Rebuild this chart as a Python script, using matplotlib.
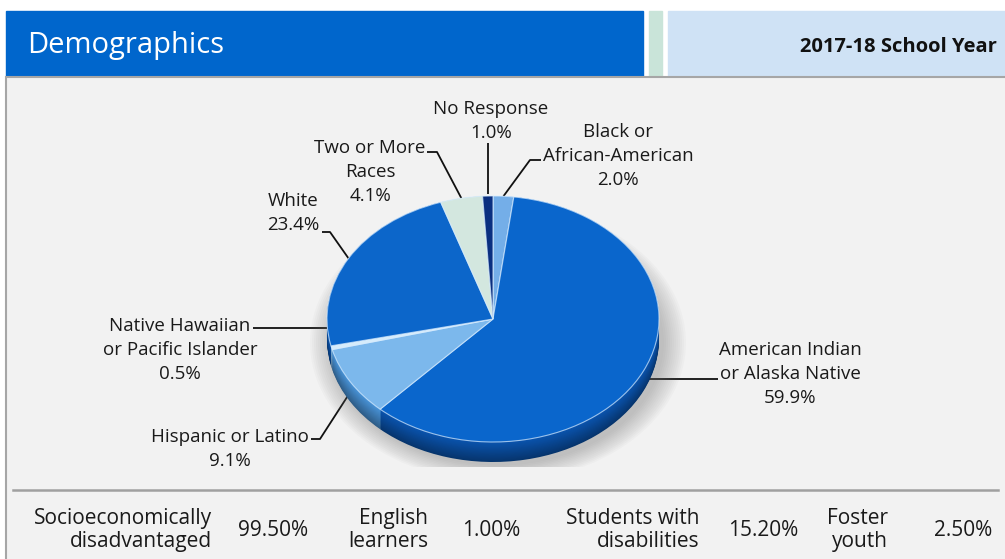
import matplotlib
matplotlib.use("Agg")
import matplotlib.pyplot as plt
import numpy as np
from matplotlib.patches import Rectangle, Ellipse
from matplotlib.colors import to_rgb

# ---------------- data ----------------
groups = ["Black or\nAfrican-American", "American Indian\nor Alaska Native", "Hispanic or Latino",
          "Native Hawaiian\nor Pacific Islander", "White", "Two or More\nRaces", "No Response"]
shares = [2.0, 59.9, 9.1, 0.5, 23.4, 4.1, 1.0]
top_colors = ["#74aee8", "#0a66cc", "#7cb8ec", "#d6ecfb", "#0c66ca", "#d3e7df", "#0a2f80"]

stat_names = ["Socioeconomically\ndisadvantaged", "English\nlearners", "Students with\ndisabilities", "Foster\nyouth"]
stat_values = ["99.50%", "1.00%", "15.20%", "2.50%"]

title = "Demographics"
year_label = "2017-18 School Year"

plt.rcParams['font.family'] = ['Open Sans', 'DejaVu Sans']

W, H = 1005, 559
fig = plt.figure(figsize=(W / 100, H / 100), dpi=100)
fig.patch.set_facecolor("white")

bg = fig.add_axes([0, 0, 1, 1])
bg.set_xlim(0, W)
bg.set_ylim(H, 0)
bg.axis("off")

# header
bg.add_patch(Rectangle((6, 11), 637, 66, color="#0066cc", zorder=1))
bg.add_patch(Rectangle((649, 11), 13, 66, color="#c9e4d9", zorder=1))
bg.add_patch(Rectangle((668, 11), 340, 66, color="#cfe2f5", zorder=1))
bg.add_patch(Rectangle((6, 77), 1010, 500, facecolor="#f2f2f2", edgecolor="#a6a6a6", lw=1.5, zorder=1))
bg.text(27, 45, title, color="white", fontsize=21, va="center", ha="left", zorder=3)
bg.text(997, 47, year_label, color="#111111", fontsize=14.5, fontweight="bold", va="center", ha="right", zorder=3)

# bottom stats row
bg.plot([13, 998], [490, 490], color="#a0a0a0", lw=1.8, zorder=2)
name_right = [212, 428, 699, 888]
value_left = [238, 462, 728, 934]
for nm, val, xr, xl in zip(stat_names, stat_values, name_right, value_left):
    bg.text(xr, 530, nm, ha="right", va="center", fontsize=15, color="#1a1a1a",
            linespacing=1.12, zorder=3)
    bg.text(xl, 530, val, ha="left", va="center", fontsize=15, color="#1a1a1a", zorder=3)

# ---------------- pie ----------------
cx, cy, rx, ry, depth = 493, 319, 166, 123, 20
lim = 1.2
axp = fig.add_axes([(cx - rx * lim) / W, 1 - (cy + ry * lim) / H, 2 * rx * lim / W, 2 * ry * lim / H])
axp.set_facecolor("none")
axp.axis("off")

# soft shadow
for i in range(12):
    s = 1.0 + i * 0.012
    axp.add_patch(Ellipse((0.03, -depth / ry - 0.03), 2 * s, 2 * s * 1.0,
                          color="#707070", alpha=0.035, lw=0, zorder=0))

def darker(c, f):
    r, g, b = to_rgb(c)
    return (r * f, g * f, b * f)

side_base = ["#3d86d6", "#0a55b0", "#4a95da", "#8cc0ea", "#0a55b0", "#9cc6b8", "#072a70"]
N = 24
dz = depth / ry
for k in range(N):
    t = k / (N - 1)
    f = 0.62 + 0.38 * t
    cols = [darker(c, f) for c in side_base]
    axp.pie(shares, colors=cols, startangle=90, counterclock=False,
            center=(0, -dz * (1 - t)), radius=1.0,
            wedgeprops=dict(linewidth=0))

wedges, _ = axp.pie(shares, colors=top_colors, startangle=90, counterclock=False,
                    center=(0, 0), radius=1.0,
                    wedgeprops=dict(linewidth=0.8, edgecolor=(0.85, 0.93, 1.0, 0.7)))
axp.set_aspect("auto")
axp.set_xlim(-lim, lim)
axp.set_ylim(-lim, lim)

# leader anchors from wedge geometry
to_bg = axp.transData + bg.transData.inverted()
cum = np.cumsum([0] + shares)
mids = (cum[:-1] + cum[1:]) / 2 / 100.0
def edge_pt(i, rim=0.0):
    a = np.pi / 2 - 2 * np.pi * mids[i]
    return to_bg.transform((np.cos(a), np.sin(a) - rim))

lab_fs = 13.5
tc = "#1a1a1a"
label_pos = [(618, 156), (790, 374), (230, 449), (180, 350), (293, 213), (370, 172), (491, 121)]
for i, (lx, ly) in enumerate(label_pos):
    bg.text(lx, ly, groups[i] + "\n%.1f%%" % shares[i], ha="center", va="center", fontsize=lab_fs,
            color=tc, linespacing=1.42, zorder=3)

rim_half = depth / ry / 2
leaders = [
    (0, [(541, 160), (530, 160)], 0),
    (1, [(718, 379)], rim_half),
    (2, [(311, 439), (320, 439)], rim_half),
    (3, [(253, 328)], 0),
    (4, [(322, 232), (330, 232)], 0),
    (5, [(427, 152), (437, 152)], 0),
    (6, [(490, 143)], 0),
]
for i, pts, rim in leaders:
    ex, ey = edge_pt(i, rim)
    if i in (1, 3):
        ey_line = pts[0][1]
        xs = [pts[0][0], ex]
        ys = [ey_line, ey_line]
    elif i == 6:
        xs = [ex, ex]
        ys = [pts[0][1], ey - 2]
    else:
        xs = [p[0] for p in pts] + [ex]
        ys = [p[1] for p in pts] + [ey]
    bg.plot(xs, ys, color="#111111", lw=1.3, zorder=4, solid_capstyle="butt")

fig.savefig("out.png", dpi=100)
